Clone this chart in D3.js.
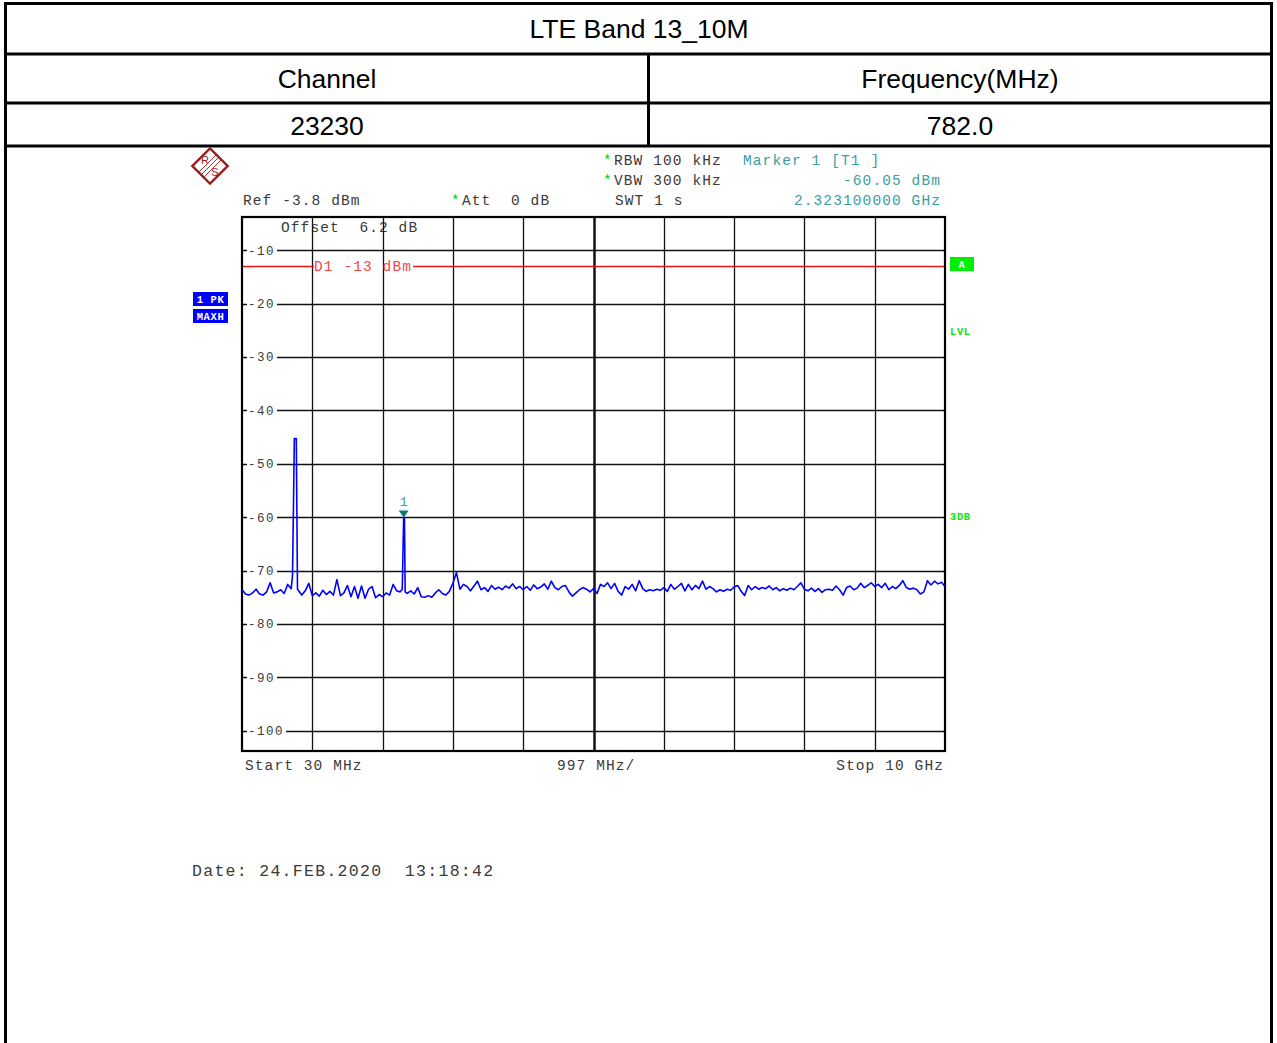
<!DOCTYPE html>
<html>
<head>
<meta charset="utf-8">
<script src="https://cdn.jsdelivr.net/npm/d3@7"></script>
<style>
  html, body { margin: 0; padding: 0; background: #fff; }
  svg { display: block; }
  text { white-space: pre; }
</style>
</head>
<body>
<svg id="chart" width="1277" height="1043"></svg>
<script>
// ---------------- data ----------------
const title = "LTE Band 13_10M";
const tableHeaders = ["Channel", "Frequency(MHz)"];
const tableValues = ["23230", "782.0"];

const startMHz = 30;
const stopMHz = 10000;
const divisionMHz = 997;
const refLevel = -3.8;
const rangeDb = 100;
const displayLineDbm = -13;

const yTickValues = [-10, -20, -30, -40, -50, -60, -70, -80, -90, -100];
const yTickLabels = ["-10", "-20", "-30", "-40", "-50", "-60", "-70", "-80", "-90", "-100"];

// noise-floor sweep levels (dBm), equally spaced sweep points from start to stop
const sweepLevels = [
  -73.6, -74.4, -74.6, -74.2, -73.5, -74.4, -74.6, -74.0, -72.3, -74.2,
  -74.0, -73.6, -74.3, -72.6, -73.4, -74.0, -74.0, -74.6, -73.8, -72.4,
  -74.7, -74.2, -74.8, -73.7, -74.5, -73.9, -74.6, -71.7, -74.7, -74.2,
  -72.8, -74.9, -73.0, -75.2, -72.9, -75.2, -73.5, -73.0, -75.1, -74.5,
  -74.9, -74.2, -74.6, -72.6, -73.8, -74.0, -74.0, -74.3, -73.8, -74.4,
  -73.2, -74.9, -75.0, -74.7, -75.0, -74.2, -73.6, -74.3, -74.6, -73.9,
  -72.4, -70.4, -73.5, -72.6, -73.0, -73.8, -72.9, -72.0, -73.6, -73.2,
  -73.9, -72.8, -73.5, -73.1, -73.6, -72.9, -73.3, -72.5, -73.4, -73.0,
  -73.6, -73.0, -73.7, -72.7, -73.4, -73.1, -72.5, -73.5, -72.0, -73.2,
  -73.6, -73.0, -72.8, -74.0, -74.8, -74.2, -73.6, -73.2, -73.5, -74.0,
  -73.4, -74.3, -72.6, -73.0, -72.3, -73.4, -72.4, -73.9, -74.6, -73.0,
  -73.5, -72.6, -73.8, -71.9, -73.4, -73.9, -73.6, -73.8, -73.5, -73.7,
  -73.2, -73.9, -72.6, -73.5, -73.0, -72.4, -73.8, -72.6, -73.6, -72.8,
  -73.4, -72.0, -73.5, -73.0, -73.4, -74.0, -73.6, -73.9, -73.5, -73.7,
  -73.1, -72.8, -73.9, -74.7, -72.8, -73.6, -73.0, -73.5, -73.2, -73.4,
  -72.9, -73.6, -73.2, -73.8, -73.4, -73.7, -73.3, -73.6, -73.0, -72.3,
  -73.5, -73.8, -73.3, -73.9, -73.4, -74.1, -73.6, -73.5, -73.7, -72.9,
  -73.6, -74.6, -73.2, -72.9, -73.6, -73.3, -72.4, -73.2, -72.8, -72.3,
  -73.0, -72.6, -73.2, -72.4, -73.6, -73.0, -73.4, -72.8, -71.9, -73.2,
  -73.5, -73.3, -73.6, -74.4, -74.0, -71.9, -72.7, -72.0, -72.5, -72.2,
  -73.0
];

// carrier / spurious detail points (MHz, dBm)
const spikeFreqMHz = [746, 760, 772, 800, 817, 2303, 2312, 2323.1, 2334, 2344];
const spikeDbm     = [-71, -58, -45.3, -45.3, -73.5, -73.5, -67, -60.05, -60.3, -74];
const spikeRanges  = [[735, 828], [2295, 2352]];

const markerFreqMHz = 2323.1;
const markerDbm = -60.05;

// ---------------- drawing ----------------
const svg = d3.select("#chart");
const mono = "'Liberation Mono', 'Courier New', monospace";
const sans = "'Liberation Sans', Arial, sans-serif";
const txtGrey = "#3a3a3a";
const teal = "#3a9e9e";

// table
const T = { left: 5.5, right: 1271.5, top: 3.5, r1: 54, r2: 103, r3: 146, mid: 648.5 };
const tbl = svg.append("g").attr("stroke", "#000").attr("stroke-width", 3).attr("fill", "none");
tbl.append("line").attr("x1", T.left).attr("x2", T.right).attr("y1", T.top).attr("y2", T.top);
[T.r1, T.r2, T.r3].forEach(yy => tbl.append("line").attr("x1", T.left).attr("x2", T.right).attr("y1", yy).attr("y2", yy));
tbl.append("line").attr("x1", T.left).attr("x2", T.left).attr("y1", T.top - 1.5).attr("y2", 1043);
tbl.append("line").attr("x1", T.right).attr("x2", T.right).attr("y1", T.top - 1.5).attr("y2", 1043);
tbl.append("line").attr("x1", T.mid).attr("x2", T.mid).attr("y1", T.r1).attr("y2", T.r3);

svg.append("text").attr("x", 639).attr("y", 38).attr("text-anchor", "middle")
  .attr("font-family", sans).attr("font-size", 26.5).text(title);
const colCenters = [327, 960];
tableHeaders.forEach((t, i) => svg.append("text").attr("x", colCenters[i]).attr("y", 88)
  .attr("text-anchor", "middle").attr("font-family", sans).attr("font-size", 26.5).text(t));
tableValues.forEach((t, i) => svg.append("text").attr("x", colCenters[i]).attr("y", 135)
  .attr("text-anchor", "middle").attr("font-family", sans).attr("font-size", 26.5).text(t));

// scales
const x = d3.scaleLinear().domain([startMHz, stopMHz]).range([242, 945]);
const y = d3.scaleLinear().domain([refLevel - rangeDb, refLevel]).range([751, 217]);

// R&S logo
const logo = svg.append("g").attr("transform", "translate(210,166)");
logo.append("rect").attr("x", -12.5).attr("y", -12.5).attr("width", 25).attr("height", 25)
  .attr("transform", "rotate(45)").attr("fill", "none").attr("stroke", "#9b1c1c").attr("stroke-width", 2.4);
[-2.5, 0, 2.5].forEach(o => logo.append("line")
  .attr("x1", -9 + o).attr("y1", 9 + o).attr("x2", 9 + o).attr("y2", -9 + o)
  .attr("stroke", "#9b1c1c").attr("stroke-width", 0.9));
logo.append("text").attr("x", -5).attr("y", -2).attr("text-anchor", "middle").attr("font-family", sans)
  .attr("font-size", 11).attr("fill", "#9b1c1c").text("R");
logo.append("text").attr("x", 5).attr("y", 10).attr("text-anchor", "middle").attr("font-family", sans)
  .attr("font-size", 11).attr("fill", "#9b1c1c").text("S");

// header texts
function monoText(xx, yy, t, opts = {}) {
  return svg.append("text").attr("x", xx).attr("y", yy)
    .attr("font-family", mono).attr("font-size", opts.size || 14.5)
    .attr("letter-spacing", opts.ls !== undefined ? opts.ls : 1.1)
    .attr("fill", opts.fill || txtGrey)
    .attr("text-anchor", opts.anchor || "start")
    .text(t);
}
monoText(243, 205, "Ref -3.8 dBm");
monoText(451, 205, "*", { fill: "#10c010" });
monoText(462, 205, "Att  0 dB");
monoText(281, 232, "Offset  6.2 dB");
monoText(603, 165, "*", { fill: "#10c010" });
monoText(614, 165, "RBW 100 kHz");
monoText(603, 185, "*", { fill: "#10c010" });
monoText(614, 185, "VBW 300 kHz");
monoText(615, 205, "SWT 1 s");
monoText(743, 165, "Marker 1 [T1 ]", { fill: teal });
monoText(941, 185, "-60.05 dBm", { fill: teal, anchor: "end" });
monoText(941, 205, "2.323100000 GHz", { fill: teal, anchor: "end" });

// plot frame & grid
const grid = svg.append("g").attr("stroke", "#111");
const gridFreqs = d3.range(0, 11).map(k => startMHz + k * divisionMHz);
gridFreqs.forEach((f, k) => {
  if (k === 0 || k === 10) return;
  grid.append("line").attr("x1", Math.round(x(f)) + 0.5).attr("x2", Math.round(x(f)) + 0.5)
    .attr("y1", 217).attr("y2", 751).attr("stroke-width", k === 5 ? 2.5 : 1.3);
});
yTickValues.forEach(v => {
  grid.append("line").attr("x1", 242).attr("x2", 945)
    .attr("y1", Math.round(y(v)) + 0.5).attr("y2", Math.round(y(v)) + 0.5).attr("stroke-width", 1.3);
});
svg.append("rect").attr("x", 242).attr("y", 217).attr("width", 703).attr("height", 534)
  .attr("fill", "none").attr("stroke", "#000").attr("stroke-width", 2.2);

// y tick labels with white backing
yTickValues.forEach((v, i) => {
  const lbl = yTickLabels[i];
  const w = lbl.length * 9 + 3;
  svg.append("rect").attr("x", 247).attr("y", y(v) - 6).attr("width", w).attr("height", 12).attr("fill", "#fff");
  svg.append("text").attr("x", 248).attr("y", y(v) + 4.5).attr("font-family", mono)
    .attr("font-size", 12.5).attr("letter-spacing", 1.5).attr("fill", txtGrey).text(lbl);
});

// display line D1
const dlY = Math.round(y(displayLineDbm)) + 0.5;
svg.append("line").attr("x1", 243).attr("x2", 314).attr("y1", dlY).attr("y2", dlY).attr("stroke", "#e8141c").attr("stroke-width", 1.3);
svg.append("line").attr("x1", 413).attr("x2", 944).attr("y1", dlY).attr("y2", dlY).attr("stroke", "#e8141c").attr("stroke-width", 1.3);
monoText(314, dlY + 4.5, "D1 -13 dBm", { fill: "#f04848" });

// trace
const n = sweepLevels.length;
const basePts = sweepLevels.map((v, i) => ({ f: startMHz + i * (stopMHz - startMHz) / (n - 1), v }))
  .filter(p => !spikeRanges.some(r => p.f >= r[0] && p.f <= r[1]));
const spikePts = spikeFreqMHz.map((f, i) => ({ f, v: spikeDbm[i] }));
const tracePts = basePts.concat(spikePts).sort((a, b) => a.f - b.f);
const line = d3.line().x(d => x(d.f)).y(d => y(d.v));
svg.append("path").datum(tracePts).attr("d", line).attr("fill", "none")
  .attr("stroke", "#0000ff").attr("stroke-width", 1.6).attr("stroke-linejoin", "round");

// marker
const mx = x(markerFreqMHz), my = y(markerDbm);
svg.append("path").attr("d", `M${mx - 5},${my - 7}L${mx + 5},${my - 7}L${mx},${my}Z`).attr("fill", "#0a7878");
svg.append("text").attr("x", mx).attr("y", my - 11).attr("text-anchor", "middle").attr("font-family", mono)
  .attr("font-size", 13).attr("fill", teal).text("1");

// left trace info boxes
function boxLabel(xx, yy, w, h, t, bg, fg) {
  svg.append("rect").attr("x", xx).attr("y", yy).attr("width", w).attr("height", h).attr("fill", bg);
  svg.append("text").attr("x", xx + w / 2).attr("y", yy + h - 3.5).attr("text-anchor", "middle")
    .attr("font-family", mono).attr("font-weight", "bold").attr("font-size", 10.5)
    .attr("letter-spacing", 0.6).attr("fill", fg).text(t);
}
boxLabel(193, 292, 35, 14, "1 PK", "#0000ff", "#fff");
boxLabel(193, 309, 35, 14, "MAXH", "#0000ff", "#fff");
boxLabel(950, 257, 24, 14, "A", "#00ee00", "#fff");

function greenText(yy, t) {
  svg.append("text").attr("x", 950).attr("y", yy).attr("font-family", mono).attr("font-weight", "bold")
    .attr("font-size", 10.5).attr("letter-spacing", 0.6).attr("fill", "#10e010").text(t);
}
greenText(335, "LVL");
greenText(520, "3DB");

// bottom texts
monoText(245, 770, "Start 30 MHz");
monoText(557, 770, "997 MHz/");
monoText(944, 770, "Stop 10 GHz", { anchor: "end" });
monoText(192, 876, "Date: 24.FEB.2020  13:18:42", { size: 16.5, ls: 1.3 });
</script>
</body>
</html>
